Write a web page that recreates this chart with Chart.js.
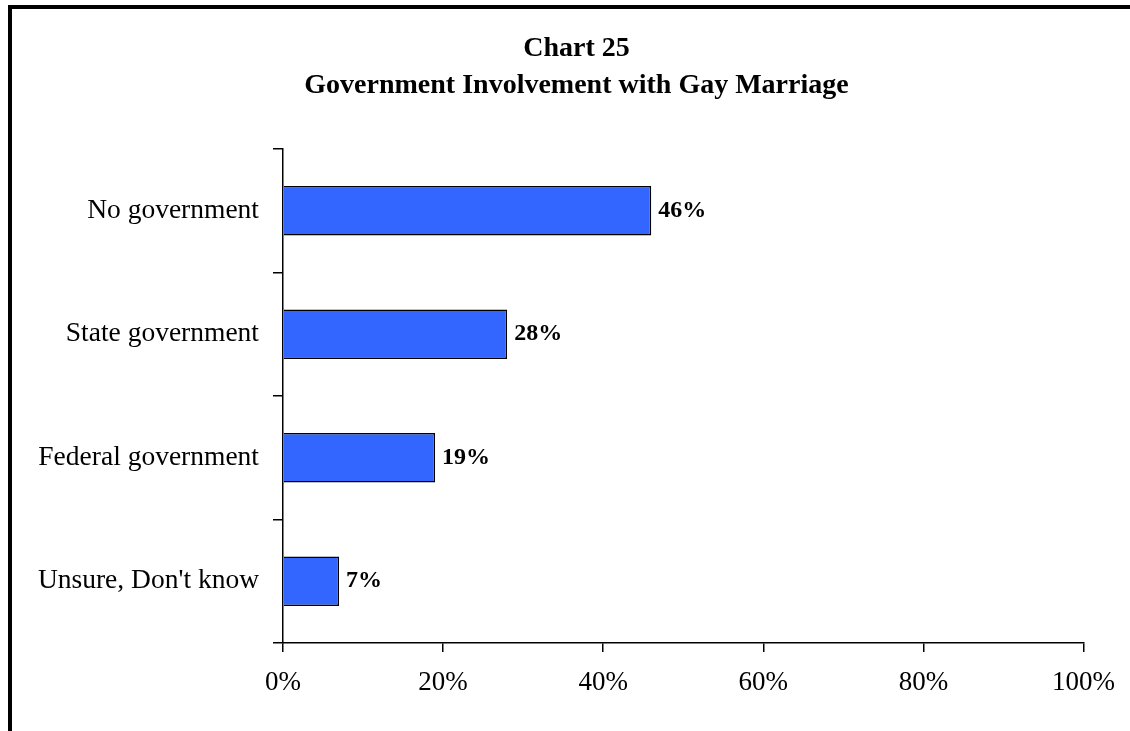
<!DOCTYPE html>
<html>
<head>
<meta charset="utf-8">
<title>Chart 25</title>
<script src="https://cdn.jsdelivr.net/npm/chart.js@4/dist/chart.umd.min.js"></script>
<style>
  html, body { margin: 0; padding: 0; background: #fff; }
  canvas { display: block; }
</style>
</head>
<body>
<canvas id="grafico" width="1130" height="731"></canvas>
<script>
const categorias = ["No government", "State government", "Federal government", "Unsure, Don't know"];
const percentuais = [46, 28, 19, 7];
const ticksX = [0, 20, 40, 60, 80, 100];
const titulo = ["Chart 25", "Government Involvement with Gay Marriage"];

// moldura preta (topo e esquerda) + fundo branco
const moldura = {
    id: "moldura",
    beforeDraw(chart) {
        const ctx = chart.ctx;
        ctx.save();
        ctx.fillStyle = "#fff";
        ctx.fillRect(0, 0, chart.width, chart.height);
        ctx.fillStyle = "#000";
        ctx.fillRect(8, 5, chart.width - 8, 4);
        ctx.fillRect(8, 5, 4, chart.height - 5);
        ctx.restore();
    }
};

// centraliza o título na área interna da moldura
const centralizaTitulo = {
    id: "centralizaTitulo",
    afterLayout(chart) {
        if (chart.titleBlock) {
            chart.titleBlock.left = 23;
            chart.titleBlock.right = chart.width;
        }
    }
};

// rótulos de valor ao lado de cada barra
const rotulos = {
    id: "rotulos",
    afterDatasetsDraw(chart) {
        const ctx = chart.ctx;
        const meta = chart.getDatasetMeta(0);
        ctx.save();
        ctx.font = "bold 24px 'Liberation Serif'";
        ctx.fillStyle = "#000";
        ctx.textAlign = "left";
        ctx.textBaseline = "middle";
        meta.data.forEach((barra, i) => {
            ctx.fillText(percentuais[i] + "%", barra.x + 7, barra.y);
        });
        ctx.restore();
    }
};

Chart.defaults.font.family = "'Liberation Serif', 'Times New Roman', serif";
Chart.defaults.color = "#000";

const ctx = document.getElementById("grafico").getContext("2d");
new Chart(ctx, {
    type: "bar",
    data: {
        labels: categorias,
        datasets: [{
            data: percentuais,
            backgroundColor: "#3366FF",
            borderColor: "#000",
            borderWidth: 1.5,
            barPercentage: 0.4,
            categoryPercentage: 1
        }]
    },
    options: {
        indexAxis: "y",
        responsive: false,
        animation: false,
        devicePixelRatio: 1,
        layout: { padding: { top: 0, left: 0, right: 46, bottom: 0 } },
        plugins: {
            legend: { display: false },
            tooltip: { enabled: false },
            title: {
                display: true,
                text: titulo,
                color: "#000",
                font: { size: 28, weight: "bold", lineHeight: "37.5px" },
                padding: { top: 29.75, bottom: 44.25 }
            }
        },
        scales: {
            y: {
                grid: { offset: true, drawOnChartArea: false, tickLength: 10, color: "#000", lineWidth: 1.5 },
                border: { color: "#000", width: 1.5 },
                ticks: { font: { size: 27.5 }, padding: 14, color: "#000" },
                afterFit(scale) { scale.width = 283; }
            },
            x: {
                min: 0,
                max: 100,
                afterBuildTicks(scale) { scale.ticks = ticksX.map(v => ({ value: v })); },
                grid: { drawOnChartArea: false, tickLength: 9, color: "#000", lineWidth: 1.5 },
                border: { color: "#000", width: 1.5 },
                ticks: { font: { size: 27 }, padding: 15, color: "#000", maxRotation: 0, callback: v => v + "%" },
                afterFit(scale) { scale.height = 731 - 643; }
            }
        }
    },
    plugins: [moldura, centralizaTitulo, rotulos]
});
</script>
</body>
</html>
